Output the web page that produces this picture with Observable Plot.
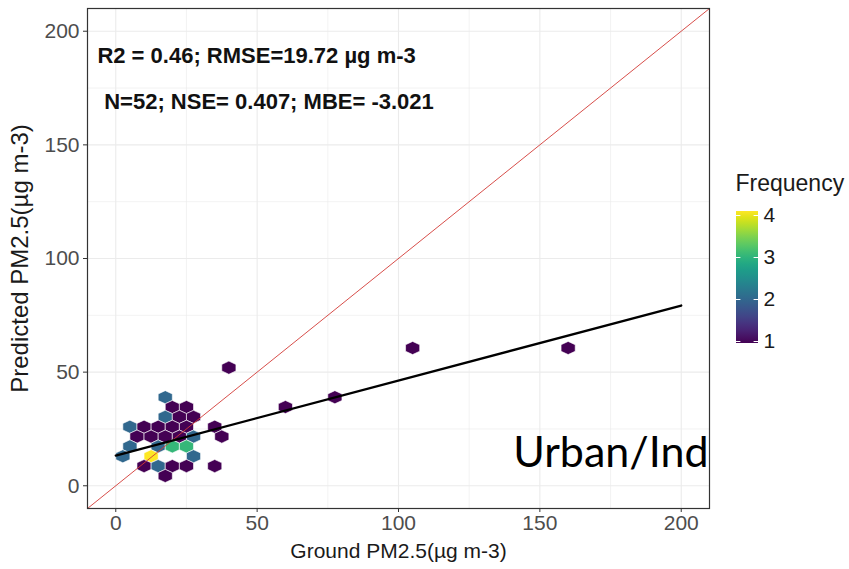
<!DOCTYPE html>
<html>
<head>
<meta charset="utf-8">
<script src="https://cdn.jsdelivr.net/npm/d3@7"></script>
<script src="https://cdn.jsdelivr.net/npm/@observablehq/plot@0.6"></script>
<style>
  body { margin: 0; background: #ffffff; }
  #chart { position: relative; width: 849px; height: 569px; overflow: hidden; background: #ffffff; }
  #legend { position: absolute; left: 725px; top: 170px; }
</style>
</head>
<body>
<div id="chart"></div>
<script>
// Hexagon bins: centre (ground, predicted PM2.5) and number of sites per bin
const hexGround = [105, 160, 40, 17.5, 77.5, 20, 25, 60, 17.5, 22.5, 27.5,
  5, 10, 15, 20, 25, 35, 7.5, 12.5, 17.5, 22.5, 27.5, 37.5,
  5, 15, 20, 25, 2.5, 12.5, 27.5, 10, 15, 20, 25, 35, 17.5];
const hexPredicted = [60.62, 60.62, 51.96, 38.97, 38.97, 34.64, 34.64, 34.64, 30.31, 30.31, 30.31,
  25.98, 25.98, 25.98, 25.98, 25.98, 25.98, 21.65, 21.65, 21.65, 21.65, 21.65, 21.65,
  17.32, 17.32, 17.32, 17.32, 12.99, 12.99, 12.99, 8.66, 8.66, 8.66, 8.66, 8.66, 4.33];
const hexCount = [1, 1, 1, 2, 1, 1, 1, 1, 2, 1, 1,
  2, 1, 1, 1, 1, 1, 1, 1, 1, 1, 2, 1,
  2, 2, 3, 3, 2, 4, 2, 1, 2, 1, 1, 1, 1];

// Linear fit and the 1:1 reference line
const fitGround = [0, 200];
const fitPredicted = [13.3, 79.3];
const oneToOne = [-10, 210];

// Axes and legend
const majorTicks = [0, 50, 100, 150, 200];
const minorTicks = [25, 75, 125, 175];
const legendBreaks = [1, 2, 3, 4];
const statsLines = ["R2 = 0.46; RMSE=19.72 µg m-3", "N=52; NSE= 0.407; MBE= -3.021"];
const siteLabel = "Urban/Ind";

const hexes = hexGround.map((g, i) => ({ground: g, predicted: hexPredicted[i], count: hexCount[i]}));
const fit = fitGround.map((g, i) => ({ground: g, predicted: fitPredicted[i]}));
const diagonal = oneToOne.map(v => ({ground: v, predicted: v}));

const W = 849, H = 569;
const mL = 87, mR = 140, mT = 8, mB = 61;
const domain = [-10, 210];
const binWidth = 5;
const pxX = (W - mL - mR) / (domain[1] - domain[0]);
const pxY = (H - mT - mB) / (domain[1] - domain[0]);
const hexRx = binWidth / 2 * pxX;
const hexRy = binWidth / Math.sqrt(3) * pxY;

// pointy-top hexagon, squeezed to the panel's aspect
const hexSymbol = {
  draw(ctx, size) {
    const rx = Math.sqrt(size / Math.PI);
    const ry = rx * hexRy / hexRx;
    const hy = ry / 2;
    ctx.moveTo(0, -ry);
    ctx.lineTo(rx, -hy);
    ctx.lineTo(rx, hy);
    ctx.lineTo(0, ry);
    ctx.lineTo(-rx, hy);
    ctx.lineTo(-rx, -hy);
    ctx.closePath();
  }
};

const font = "'Liberation Sans', Arial, Helvetica, sans-serif";

const chart = Plot.plot({
  width: W,
  height: H,
  marginLeft: mL,
  marginRight: mR,
  marginTop: mT,
  marginBottom: mB,
  style: {fontFamily: font, background: "#ffffff"},
  x: {domain, label: null},
  y: {domain, label: null},
  color: {type: "linear", scheme: "viridis", domain: [1, 4]},
  marks: [
    Plot.gridX(minorTicks, {stroke: "#ebebeb", strokeOpacity: 1, strokeWidth: 0.6}),
    Plot.gridY(minorTicks, {stroke: "#ebebeb", strokeOpacity: 1, strokeWidth: 0.6}),
    Plot.gridX(majorTicks, {stroke: "#ebebeb", strokeOpacity: 1, strokeWidth: 1.1}),
    Plot.gridY(majorTicks, {stroke: "#ebebeb", strokeOpacity: 1, strokeWidth: 1.1}),
    Plot.dot(hexes, {x: "ground", y: "predicted", fill: "count", r: hexRx, symbol: hexSymbol, stroke: "#ffffff", strokeWidth: 0.6}),
    Plot.line(diagonal, {x: "ground", y: "predicted", stroke: "#d23a36", strokeWidth: 0.9}),
    Plot.line(fit, {x: "ground", y: "predicted", stroke: "#000000", strokeWidth: 2.3}),
    Plot.axisX(majorTicks, {tickSize: 4, tickPadding: 3, fontSize: 21, color: "#4d4d4d", stroke: "#333333", label: null}),
    Plot.axisY(majorTicks, {tickSize: 4, tickPadding: 4, fontSize: 21, color: "#4d4d4d", stroke: "#333333", label: null}),
    Plot.text([statsLines[0]], {x: 49.8, y: 189.3, fontSize: 22, fontWeight: "bold", fill: "#111111"}),
    Plot.text([statsLines[1]], {x: 54.2, y: 168.8, fontSize: 22, fontWeight: "bold", fill: "#111111"}),
    Plot.text([siteLabel], {x: 210, y: 8.05, dx: -1, textAnchor: "end", lineAnchor: "bottom", fontSize: 43, fontFamily: "Lato, 'Open Sans', sans-serif", fill: "#000000"}),
    Plot.text(["Ground PM2.5(µg m-3)"], {frameAnchor: "bottom", dy: 49, fontSize: 21, fill: "#1a1a1a"}),
    Plot.text(["Predicted PM2.5(µg m-3)"], {frameAnchor: "left", dx: -67, rotate: -90, textAnchor: "middle", fontSize: 24, fill: "#1a1a1a"}),
    Plot.frame({stroke: "#333333", strokeWidth: 1.2})
  ]
});

// Colourbar legend for the bin counts
const LW = 124, LH = 200;
const legend = Plot.plot({
  width: LW,
  height: LH,
  marginLeft: 11,
  marginRight: 91,
  marginTop: 45,
  marginBottom: 29,
  style: {fontFamily: font, background: "transparent", overflow: "visible"},
  x: {domain: [0, 1], axis: null},
  y: {domain: [1, 4], axis: null},
  marks: [
    Plot.rect([{x1: 0, x2: 1, y1: 1, y2: 4}], {x1: "x1", x2: "x2", y1: "y1", y2: "y2", fill: "url(#freq-ramp)", insetTop: -4, insetBottom: -2}),
    Plot.ruleY(legendBreaks, {x1: 0, x2: 0.2, stroke: "#ffffff", strokeWidth: 1}),
    Plot.ruleY(legendBreaks, {x1: 0.8, x2: 1, stroke: "#ffffff", strokeWidth: 1}),
    Plot.text(legendBreaks, {x: 1, y: d => d, dx: 5, textAnchor: "start", fontSize: 21, fill: "#1a1a1a"}),
    Plot.text(["Frequency"], {frameAnchor: "top-left", dy: -25, dx: -1, lineAnchor: "bottom", textAnchor: "start", fontSize: 23, fill: "#1a1a1a"})
  ]
});
legend.id = "legend";

const grad = d3.select(legend).insert("defs", ":first-child")
  .append("linearGradient")
  .attr("id", "freq-ramp")
  .attr("x1", 0).attr("y1", 1).attr("x2", 0).attr("y2", 0);
d3.range(0, 1.0001, 0.05).forEach(t => {
  grad.append("stop").attr("offset", t).attr("stop-color", d3.interpolateViridis(t));
});

const host = document.getElementById("chart");
host.appendChild(chart);
host.appendChild(legend);
</script>
</body>
</html>
